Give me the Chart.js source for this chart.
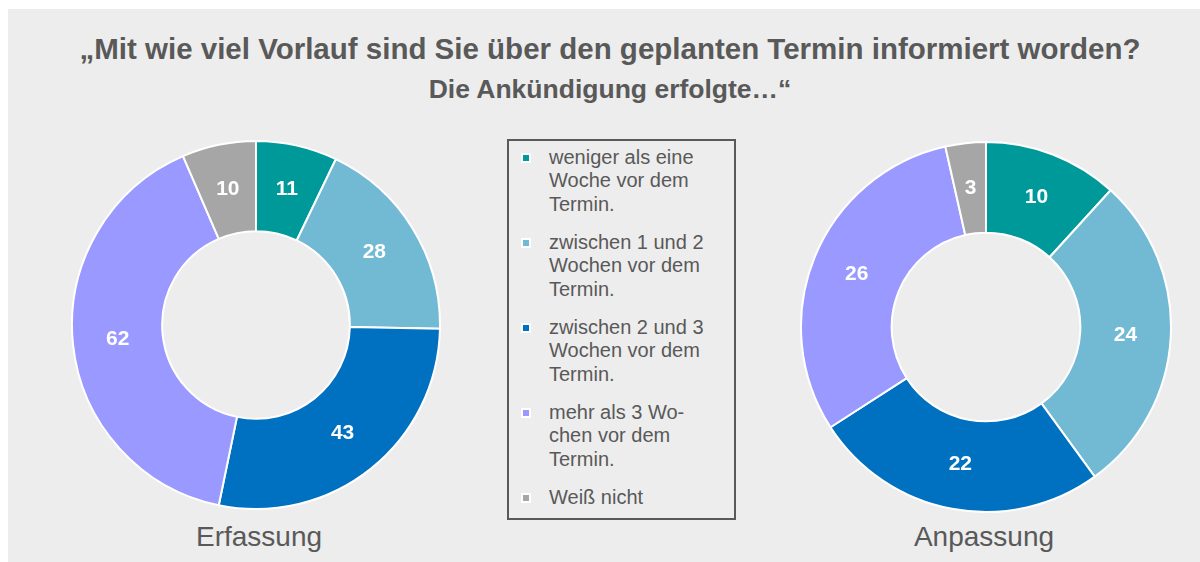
<!DOCTYPE html>
<html lang="de">
<head>
<meta charset="utf-8">
<title>Vorlauf der Terminankündigung</title>
<script src="https://cdn.jsdelivr.net/npm/chart.js@4.4.1/dist/chart.umd.min.js"></script>
<style>
	html, body { margin: 0; padding: 0; background: #ffffff; }
	body { width: 1200px; height: 562px; position: relative; overflow: hidden; font-family: "Liberation Sans", Arial, sans-serif; color: #595959; }
	#panel { position: absolute; left: 8px; top: 9px; right: 0; bottom: 0; background: #ededed; }
	.title { position: absolute; left: 10px; width: 1200px; text-align: center; font-weight: bold; white-space: nowrap; }
	#title1 { top: 34px; font-size: 29.5px; line-height: 29.5px; }
	#title2 { top: 76px; font-size: 26.5px; line-height: 26.5px; }
	.cat { position: absolute; width: 300px; text-align: center; font-size: 28px; line-height: 28px; top: 523px; }
	canvas { position: absolute; }
	#legend { position: absolute; left: 507px; top: 139px; width: 225px; height: 377px; border: 2px solid #595959; }
	#legend ul { list-style: none; margin: 0; padding: 0; position: absolute; left: 0; top: 4.5px; }
	#legend li { position: relative; padding-left: 40px; font-size: 20px; line-height: 23.5px; margin-bottom: 14.5px; white-space: nowrap; }
	#legend li span.box { position: absolute; left: 12px; top: 7.2px; width: 6px; height: 6px; border: 2px solid #ffffff; }
</style>
</head>
<body>
<div id="panel"></div>
<div class="title" id="title1">„Mit wie viel Vorlauf sind Sie über den geplanten Termin informiert worden?</div>
<div class="title" id="title2">Die Ankündigung erfolgte…“</div>

<canvas id="chartErfassung" width="370" height="370" style="left:71px; top:140px;"></canvas>
<canvas id="chartAnpassung" width="372" height="372" style="left:800px; top:141px;"></canvas>

<div class="cat" style="left:109px;">Erfassung</div>
<div class="cat" style="left:834px;">Anpassung</div>

<div id="legend"><ul id="legendList"></ul></div>

<script>
// categories, one entry per answer (lines as shown in the legend)
const categories = [
	["weniger als eine", "Woche vor dem", "Termin."],
	["zwischen 1 und 2", "Wochen vor dem", "Termin."],
	["zwischen 2 und 3", "Wochen vor dem", "Termin."],
	["mehr als 3 Wo-", "chen vor dem", "Termin."],
	["Weiß nicht"]
];
const colors = ["#00999a", "#72b9d4", "#0070c0", "#9999ff", "#a6a6a6"];

// counts per group
const erfassung = [11, 28, 43, 62, 10];
const anpassung = [10, 24, 22, 26, 3];

// draws the value in the middle of each slice
const sliceValues = {
	id: "sliceValues",
	afterDatasetsDraw(chart) {
		const ctx = chart.ctx;
		const meta = chart.getDatasetMeta(0);
		const values = chart.data.datasets[0].data;
		ctx.save();
		ctx.fillStyle = "#ffffff";
		ctx.font = "bold 21px 'Liberation Sans', Arial, sans-serif";
		ctx.textAlign = "center";
		ctx.textBaseline = "middle";
		meta.data.forEach((arc, i) => {
			const p = arc.tooltipPosition();
			ctx.fillText(String(values[i]), p.x, p.y);
		});
		ctx.restore();
	}
};

function makeDonut(id, values) {
	const ctx = document.getElementById(id).getContext("2d");
	return new Chart(ctx, {
		type: "doughnut",
		data: {
			labels: categories.map((c) => c.join(" ")),
			datasets: [
				{
					data: values,
					backgroundColor: colors,
					borderColor: "#ffffff",
					borderWidth: 2,
				},
			],
		},
		options: {
			responsive: false,
			animation: false,
			cutout: "51%",
			layout: { padding: 0 },
			plugins: {
				legend: { display: false },
				tooltip: { enabled: false },
			},
		},
		plugins: [sliceValues],
	});
}

makeDonut("chartErfassung", erfassung);
makeDonut("chartAnpassung", anpassung);

// legend box in the middle
const list = document.getElementById("legendList");
categories.forEach((lines, i) => {
	const li = document.createElement("li");
	const box = document.createElement("span");
	box.className = "box";
	box.style.background = colors[i];
	li.appendChild(box);
	lines.forEach((line, j) => {
		if (j > 0) li.appendChild(document.createElement("br"));
		li.appendChild(document.createTextNode(line));
	});
	list.appendChild(li);
});
</script>
</body>
</html>
